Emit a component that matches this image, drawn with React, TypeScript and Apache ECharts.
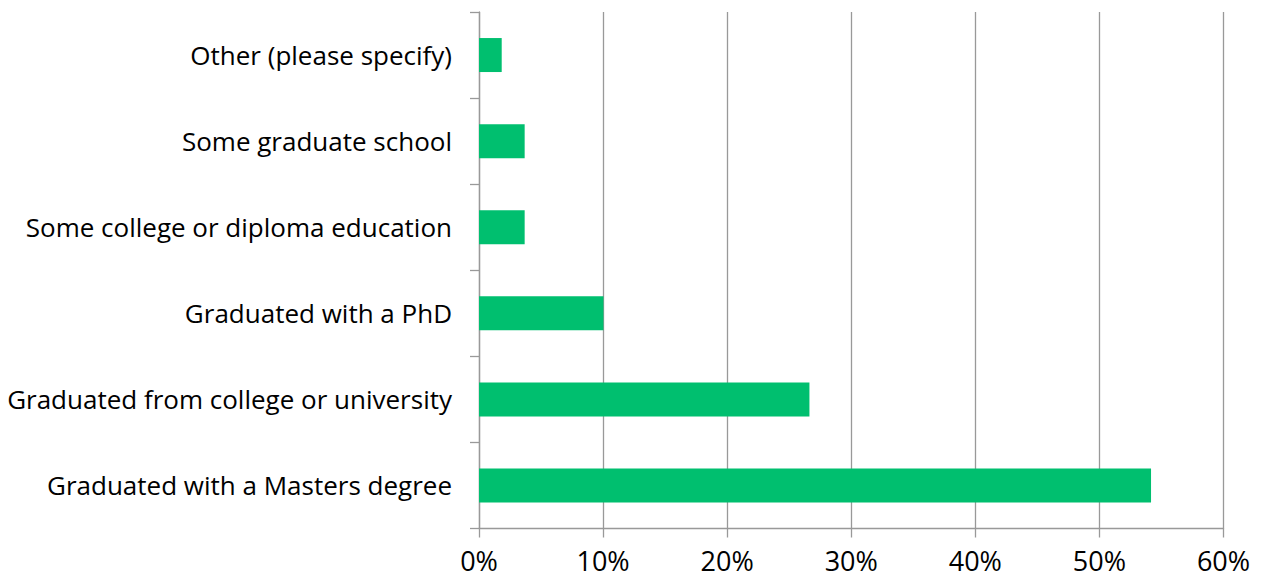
import React, { useEffect, useRef } from "react";
import * as echarts from "echarts";

const categories = [
  "Other (please specify)",
  "Some graduate school",
  "Some college or diploma education",
  "Graduated with a PhD",
  "Graduated from college or university",
  "Graduated with a Masters degree",
];
const values = [1.83, 3.68, 3.68, 10.03, 26.63, 54.16];
const xTicks = { min: 0, max: 60, interval: 10 };

export default function App() {
  const ref = useRef<HTMLDivElement>(null);
  useEffect(() => {
    if (!ref.current) return;
    const chart = echarts.init(ref.current, undefined, { renderer: "svg" });
    const font = "'Open Sans', Lato, sans-serif";
    chart.setOption({
      animation: false,
      grid: { left: 479, right: 41.5, top: 12, bottom: 51.5, containLabel: false },
      xAxis: {
        type: "value",
        min: xTicks.min,
        max: xTicks.max,
        interval: xTicks.interval,
        axisLine: { show: true, lineStyle: { color: "#999", width: 1.3 } },
        axisTick: { show: true, length: 9, lineStyle: { color: "#999", width: 1.3 } },
        splitLine: { show: true, lineStyle: { color: "#999", width: 1.3 } },
        axisLabel: {
          formatter: "{value}%",
          color: "#000",
          fontFamily: font,
          fontSize: 27,
          margin: 18,
        },
      },
      yAxis: {
        type: "category",
        data: categories,
        inverse: true,
        axisLine: { show: true, lineStyle: { color: "#999", width: 1.3 } },
        axisTick: { show: true, length: 9, lineStyle: { color: "#999", width: 1.3 } },
        axisLabel: {
          color: "#000",
          fontFamily: font,
          fontSize: 26,
          margin: 27,
        },
      },
      series: [
        {
          type: "bar",
          data: values,
          barWidth: 34,
          itemStyle: { color: "#00BF6F" },
        },
      ],
    });
    return () => chart.dispose();
  }, []);
  return (
    <div
      ref={ref}
      style={{ position: "absolute", left: 0, top: 0, width: 1265, height: 580 }}
    />
  );
}
